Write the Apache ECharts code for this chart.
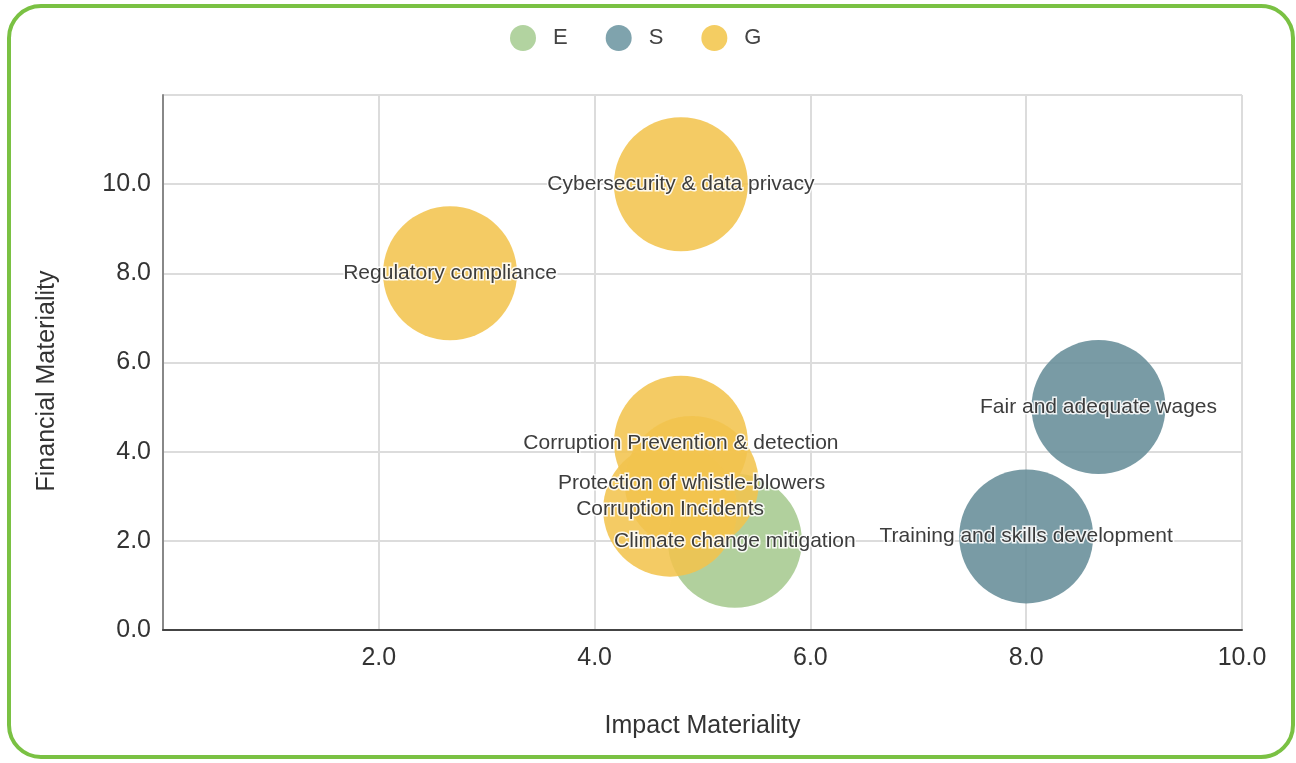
<!DOCTYPE html>
<html><head><meta charset="utf-8">
<script src="https://cdn.jsdelivr.net/npm/echarts@6/dist/echarts.min.js"></script>
<style>
html,body{margin:0;padding:0;background:#fff;}
#c{position:absolute;left:0;top:0;width:1296px;height:763px;}
#frame{position:absolute;left:7px;top:4px;width:1280px;height:747px;border:4px solid #7ac143;border-radius:34px;pointer-events:none;}
</style></head>
<body>
<div id="c"></div><div id="frame"></div>
<script>
const seriesNames = ['E', 'S', 'G'];
const eLabels = ['Climate change mitigation'];
const eX = [5.3];
const eY = [2.0];
const sLabels = ['Fair and adequate wages', 'Training and skills development'];
const sX = [8.67, 8.0];
const sY = [5.0, 2.1];
const gLabels = ['Cybersecurity & data privacy', 'Regulatory compliance', 'Corruption Prevention & detection', 'Protection of whistle-blowers', 'Corruption Incidents'];
const gX = [4.8, 2.66, 4.8, 4.9, 4.7];
const gY = [10.0, 8.0, 4.2, 3.3, 2.7];
const xTicks = [0, 2, 4, 6, 8, 10];
const yTicks = [0, 2, 4, 6, 8, 10, 12];
const xTitle = 'Impact Materiality';
const yTitle = 'Financial Materiality';

const colors = ['#a6ca8f', '#668d98', '#f2c44e'];
const legendColors = ['#b2d3a0', '#7fa3ad', '#f4cd62'];
const FONT = 'Liberation Sans, Arial, sans-serif';

function mk(labels, xs, ys) { return labels.map((l, i) => [xs[i], ys[i], l]); }
const groups = [mk(eLabels, eX, eY), mk(sLabels, sX, sY), mk(gLabels, gX, gY)];

const chart = echarts.init(document.getElementById('c'));
chart.setOption({
  animation: false,
  legend: {
    top: 20, left: 505, itemGap: 38, itemWidth: 26, itemHeight: 26,
    icon: 'circle',
    textStyle: { fontSize: 22, color: '#444', fontFamily: FONT, padding: [0, 0, 0, 12] },
    data: seriesNames.map((n, i) => ({ name: n, itemStyle: { color: legendColors[i], opacity: 1 } }))
  },
  grid: { left: 163, right: 54, top: 95, bottom: 133 },
  graphic: [{
    type: 'text', x: 47, y: 381, rotation: Math.PI / 2,
    style: { text: yTitle, fontSize: 25, fill: '#333', fontFamily: FONT, align: 'center', verticalAlign: 'middle' }
  }],
  xAxis: {
    type: 'value', min: xTicks[0], max: xTicks[xTicks.length - 1], interval: 2,
    name: xTitle, nameLocation: 'middle', nameGap: 84,
    nameTextStyle: { fontSize: 25, color: '#333', fontFamily: FONT },
    axisLine: { lineStyle: { color: '#444', width: 2 } },
    axisTick: { show: false },
    axisLabel: { showMinLabel: false, fontSize: 25, color: '#333', margin: 16, fontFamily: FONT, formatter: v => v.toFixed(1) },
    splitLine: { show: true, lineStyle: { color: '#dcdcdc', width: 2 } }
  },
  yAxis: {
    type: 'value', min: yTicks[0], max: yTicks[yTicks.length - 1], interval: 2,
    axisLine: { show: true, lineStyle: { color: '#888', width: 2 } },
    axisTick: { show: false },
    axisLabel: { showMaxLabel: false, fontSize: 25, color: '#333', margin: 12, fontFamily: FONT, formatter: v => v.toFixed(1) },
    splitLine: { show: true, lineStyle: { color: '#dcdcdc', width: 2 } }
  },
  series: seriesNames.map((n, i) => ({
    name: n, type: 'scatter', symbolSize: 134,
    data: groups[i],
    itemStyle: { color: colors[i], opacity: 0.88 },
    label: {
      show: true, position: 'inside', formatter: p => p.data[2],
      fontSize: 21, color: '#222', fontFamily: FONT,
      textBorderColor: '#fff', textBorderWidth: 3
    },
    emphasis: { disabled: true }
  }))
});
</script>
</body></html>
